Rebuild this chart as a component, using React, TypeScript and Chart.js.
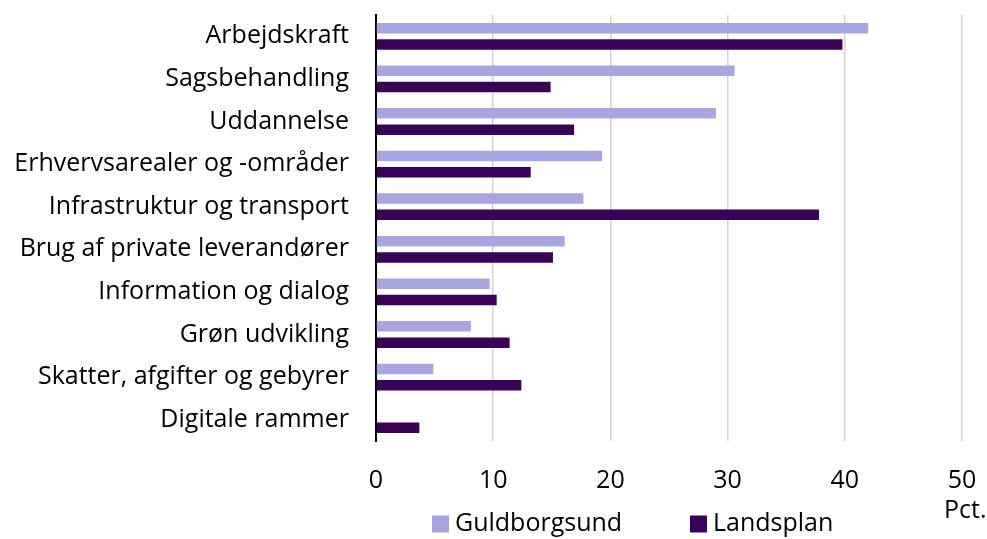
import React, { useEffect, useRef } from "react";
import { Chart, registerables } from "chart.js";

Chart.register(...registerables);

const categories = [
  "Arbejdskraft",
  "Sagsbehandling",
  "Uddannelse",
  "Erhvervsarealer og -områder",
  "Infrastruktur og transport",
  "Brug af private leverandører",
  "Information og dialog",
  "Grøn udvikling",
  "Skatter, afgifter og gebyrer",
  "Digitale rammer",
];
const seriesNames = ["Guldborgsund", "Landsplan"];
const guldborgsund = [42.0, 30.6, 29.0, 19.3, 17.7, 16.1, 9.7, 8.1, 4.9, 0];
const landsplan = [39.8, 14.9, 16.9, 13.2, 37.8, 15.1, 10.3, 11.4, 12.4, 3.7];
const xMin = 0;
const xMax = 50;
const xStep = 10;
const unitLabel = "Pct.";

const FONT = "'Open Sans', Lato, sans-serif";
const FSIZE = 25;
const colors = ["#a9a5e0", "#3b0058"];

const W = 987;
const H = 539;

const overlayPlugin = {
  id: "overlay",
  afterDraw(chart: any) {
    const ctx = chart.ctx as CanvasRenderingContext2D;
    const xs = chart.scales.x;
    ctx.save();
    ctx.font = `${FSIZE}px ${FONT}`;
    ctx.fillStyle = "#000";
    ctx.textBaseline = "middle";
    ctx.textAlign = "left";
    ctx.fillText(unitLabel, xs.getPixelForValue(xMax) - 18, 511);
    const legendY = 524;
    const box = 17;
    const starts = [432, 690];
    chart.data.datasets.forEach((ds: any, i: number) => {
      const x0 = starts[i];
      ctx.fillStyle = ds.backgroundColor;
      ctx.fillRect(x0, legendY - box / 2, box, box);
      ctx.fillStyle = "#000";
      ctx.fillText(ds.label, x0 + box + 6, legendY);
    });
    ctx.restore();
  },
};

export default function App() {
  const ref = useRef<HTMLCanvasElement | null>(null);
  useEffect(() => {
    if (!ref.current) return;
    const chart = new Chart(ref.current, {
      type: "bar",
      data: {
        labels: categories,
        datasets: [
          {
            label: seriesNames[0],
            data: guldborgsund,
            backgroundColor: colors[0],
            borderWidth: 0,
            categoryPercentage: 0.765,
            barPercentage: 0.645,
          },
          {
            label: seriesNames[1],
            data: landsplan,
            backgroundColor: colors[1],
            borderWidth: 0,
            categoryPercentage: 0.765,
            barPercentage: 0.645,
          },
        ],
      },
      options: {
        indexAxis: "y",
        responsive: false,
        animation: false,
        layout: { padding: { top: 15, right: 25, left: 0, bottom: 0 } },
        plugins: {
          legend: { display: false },
          tooltip: { enabled: false },
        },
        scales: {
          x: {
            min: xMin,
            max: xMax,
            ticks: {
              stepSize: xStep,
              color: "#000",
              font: { family: FONT, size: FSIZE },
              padding: 25,
            },
            grid: { color: "#d4d4d4", lineWidth: 1.5, drawTicks: false },
            border: { display: false },
            afterFit: (s: any) => {
              s.height = 98;
              s.paddingLeft = 0;
              s.paddingRight = 0;
            },
          },
          y: {
            ticks: {
              color: "#000",
              font: { family: FONT, size: FSIZE },
              padding: 27,
              autoSkip: false,
            },
            grid: { display: false, drawTicks: false },
            border: { display: true, color: "#000", width: 2 },
            afterFit: (s: any) => {
              s.width = 376;
              s.paddingTop = 0;
              s.paddingBottom = 0;
            },
          },
        },
      },
      plugins: [overlayPlugin],
    });
    return () => chart.destroy();
  }, []);
  return (
    <div style={{ position: "absolute", left: 0, top: 0, width: W, height: H, background: "#fff" }}>
      <canvas ref={ref} width={W} height={H} style={{ width: W, height: H, display: "block" }} />
    </div>
  );
}
